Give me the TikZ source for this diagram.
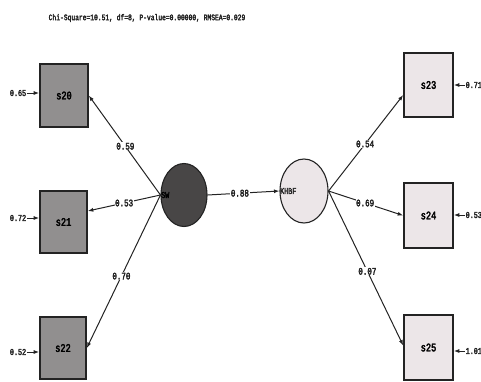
\documentclass[tikz,border=0pt]{standalone}
\usepackage{fontspec}
\newfontfamily\lblfont[FakeStretch=0.75,FakeBold=3]{Liberation Mono}
\usetikzlibrary{arrows.meta,shapes.geometric}
\definecolor{leftfill}{RGB}{145,143,143}
\definecolor{swfill}{RGB}{72,70,70}
\definecolor{rightfill}{RGB}{236,230,232}
\definecolor{ink}{RGB}{35,35,35}
\tikzset{
  obs/.style={draw=ink,line width=1.6pt,minimum width=#1,inner sep=0pt,font=\lblfont\fontsize{11.5}{12}\selectfont},
  leftbox/.style={obs=48pt,fill=leftfill},
  rightbox/.style={obs=49pt,fill=rightfill},
  lat/.style={ellipse,draw=ink,line width=1.1pt,inner sep=0pt},
  conn/.style={draw=ink,line width=1pt,-{Latex[length=5.5pt,width=4pt]}},
  coef/.style={fill=white,inner sep=0.6pt,font=\lblfont\fontsize{10}{11}\selectfont,text=ink},
  err/.style={inner sep=0.5pt,font=\lblfont\fontsize{9}{10}\selectfont,text=ink},
  ttl/.style={font=\lblfont\fontsize{8.4}{9}\selectfont,text=ink},
  latlbl/.style={anchor=west,inner sep=0.5pt,font=\lblfont\fontsize{9}{10}\selectfont,text=ink}
}
\begin{document}
\begin{tikzpicture}[x=1pt,y=-1pt]
\useasboundingbox (0,0) rectangle (481,381);
\node[ttl] (title) at (147,18) {Chi-Square=10.51, df=8, P-value=0.00000, RMSEA=0.029};
% left observed
\node[leftbox,minimum height=63pt] (s20) at (64,95.5) {s20};
\node[leftbox,minimum height=62pt,minimum width=47pt] (s21) at (63.5,222) {s21};
\node[leftbox,minimum height=62pt,minimum width=46pt] (s22) at (63,348) {s22};
% latent
\node[lat,fill=swfill,minimum width=46pt,minimum height=63pt] (SW) at (184,195) {};
\node[latlbl,text=black] (swl) at (SW.west) {SW};
\node[lat,fill=rightfill,minimum width=48pt,minimum height=64pt] (KHBF) at (304,191) {};
\node[latlbl] (kl) at (KHBF.west) {KHBF};
% right observed
\node[rightbox,minimum height=64pt] (s23) at (428.5,85) {s23};
\node[rightbox,minimum height=65pt] (s24) at (428.5,215.5) {s24};
\node[rightbox,minimum height=65pt] (s25) at (428.5,347.5) {s25};
% loadings
\draw[conn] (SW.west) -- node[coef,pos=0.49] {0.59} (s20.east);
\draw[conn] (SW.west) -- node[coef,pos=0.5] {0.53} ([yshift=11pt]s21.east);
\draw[conn] (SW.west) -- node[coef,pos=0.53] {0.70} (s22.east);
\draw[conn] (SW.east) -- node[coef,pos=0.45] {0.88} (KHBF.west);
\draw[conn] (KHBF.east) -- node[coef,pos=0.49] {0.54} ([yshift=-10pt]s23.west);
\draw[conn] (KHBF.east) -- node[coef,pos=0.49] {0.69} (s24.west);
\draw[conn] (KHBF.east) -- node[coef,pos=0.52] {0.07} ([yshift=2pt]s25.west);
% error terms
\node[err] (e20) at (18,93) {0.65};
\node[err] (e21) at (18,218) {0.72};
\node[err] (e22) at (18,352) {0.52};
\node[err,anchor=west] (e23) at (465,85) {0.71};
\node[err,anchor=west] (e24) at (465,215) {0.53};
\node[err,anchor=west] (e25) at (465,351) {1.01};
\draw[conn] (e20.east) -- (s20.west |- e20.east);
\draw[conn] (e21.east) -- (s21.west |- e21.east);
\draw[conn] (e22.east) -- (s22.west |- e22.east);
\draw[conn] (e23.west) -- (s23.east |- e23.west);
\draw[conn] (e24.west) -- (s24.east |- e24.west);
\draw[conn] (e25.west) -- (s25.east |- e25.west);
\end{tikzpicture}
\end{document}
